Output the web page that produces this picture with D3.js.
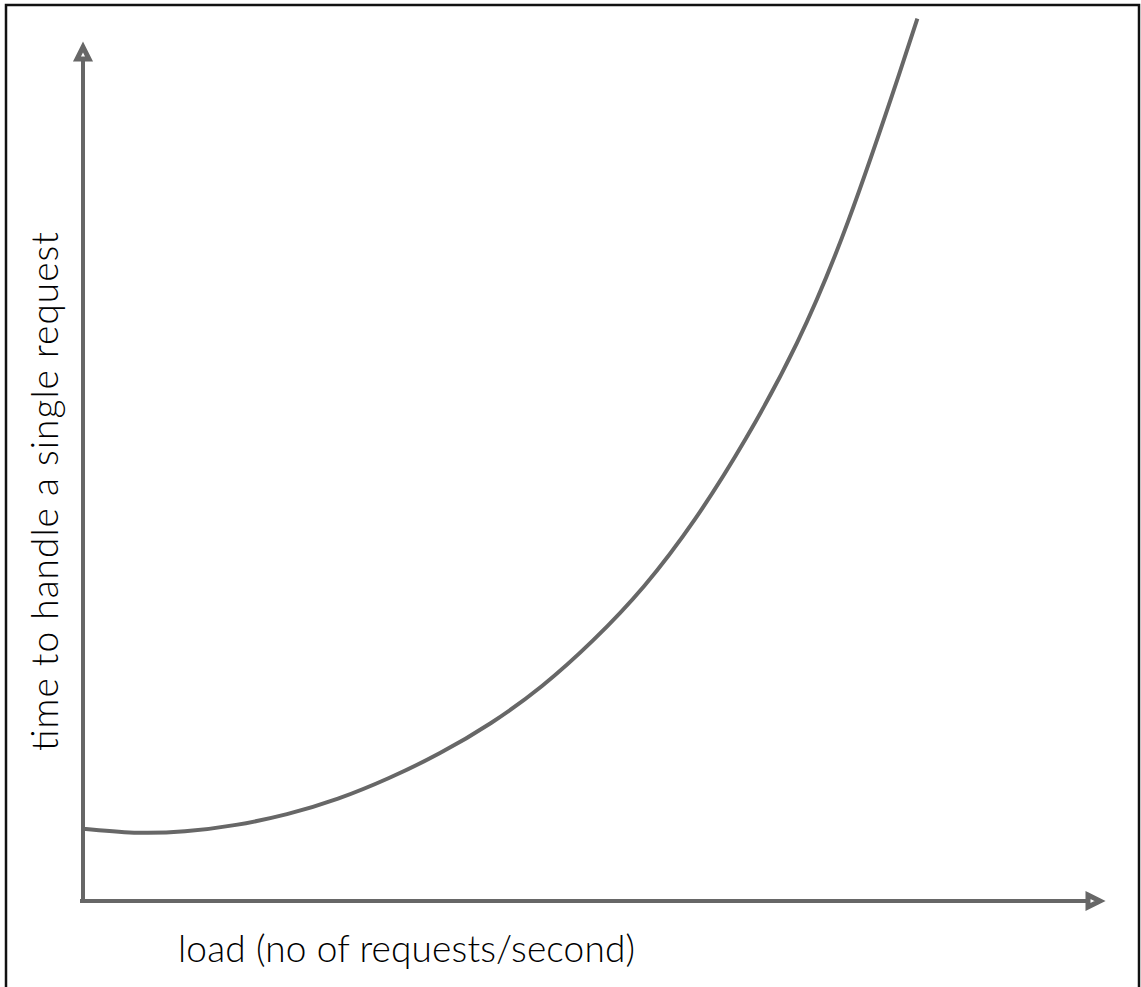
<!DOCTYPE html>
<html>
<head>
<meta charset="utf-8">
<script src="https://cdn.jsdelivr.net/npm/d3@7"></script>
<style>
  html, body { margin: 0; padding: 0; background: #fff; }
  svg { display: block; }
</style>
</head>
<body>
<svg id="chart" width="1141" height="987"></svg>
<script>
// curve (abstract units, no ticks on the original)
const loadValues = [0, 0.5, 1, 1.5, 2, 2.5, 3, 3.5, 4, 4.5, 5, 5.5, 6, 6.5, 7, 7.5, 8, 8.18];
const timeValues = [0.84, 0.795, 0.81, 0.885, 1.01, 1.19, 1.43, 1.72, 2.07, 2.5, 3.03, 3.66, 4.44, 5.38, 6.49, 7.9, 9.61, 10.26];

const xLabel = "load (no of requests/second)";
const yLabel = "time to handle a single request";

const axisColor = "#676767";

const svg = d3.select("#chart");

// frame around the whole picture
svg.append("rect")
    .attr("x", 6).attr("y", 5)
    .attr("width", 1133).attr("height", 1000)
    .attr("fill", "none")
    .attr("stroke", "#111")
    .attr("stroke-width", 2.5);

const x = d3.scaleLinear().domain([0, 10]).range([83, 1103]);
const y = d3.scaleLinear().domain([0, 10]).range([901, 41]);

// axes: plain lines with arrowheads
const axes = svg.append("g");

axes.append("line")
    .attr("x1", x(0) - 3).attr("y1", y(0))
    .attr("x2", 1090).attr("y2", y(0))
    .attr("stroke", axisColor).attr("stroke-width", 4);

axes.append("line")
    .attr("x1", x(0)).attr("y1", y(0) + 2)
    .attr("x2", x(0)).attr("y2", 58)
    .attr("stroke", axisColor).attr("stroke-width", 4);

// x arrow head
axes.append("path")
    .attr("d", `M1088,${y(0) - 6}L1100,${y(0)}L1088,${y(0) + 6}Z`)
    .attr("fill", "#fff")
    .attr("stroke", axisColor)
    .attr("stroke-width", 5)
    .attr("stroke-linejoin", "miter");

// y arrow head
axes.append("path")
    .attr("d", `M${x(0) - 6},59L${x(0)},47L${x(0) + 6},59Z`)
    .attr("fill", "#fff")
    .attr("stroke", axisColor)
    .attr("stroke-width", 5)
    .attr("stroke-linejoin", "miter");

// the curve
const points = loadValues.map((v, i) => [v, timeValues[i]]);

const line = d3.line()
    .x(d => x(d[0]))
    .y(d => y(d[1]))
    .curve(d3.curveNatural);

svg.append("path")
    .datum(points)
    .attr("d", line)
    .attr("fill", "none")
    .attr("stroke", axisColor)
    .attr("stroke-width", 4)
    .attr("stroke-linecap", "butt");

// labels
svg.append("text")
    .attr("x", 178)
    .attr("y", 962)
    .attr("font-family", "Lato, 'Open Sans', sans-serif")
    .attr("font-weight", 300)
    .attr("font-size", 37)
    .attr("fill", "#000")
    .attr("textLength", 457)
    .attr("lengthAdjust", "spacing")
    .text(xLabel);

svg.append("text")
    .attr("transform", "translate(58,751) rotate(-90)")
    .attr("font-family", "Lato, 'Open Sans', sans-serif")
    .attr("font-weight", 300)
    .attr("font-size", 37)
    .attr("fill", "#000")
    .attr("textLength", 519)
    .attr("lengthAdjust", "spacing")
    .text(yLabel);
</script>
</body>
</html>
